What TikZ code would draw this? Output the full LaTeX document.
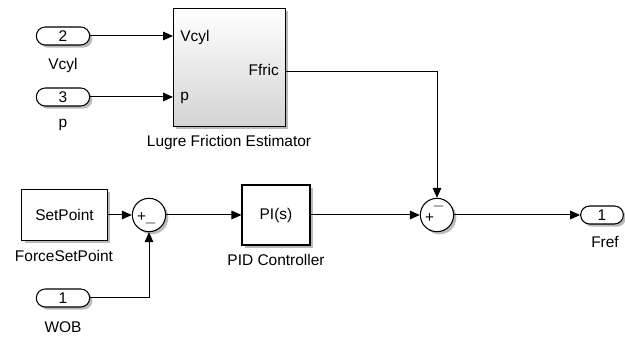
\documentclass[tikz,border=0pt]{standalone}
\usepackage{fontspec}
\setmainfont{Liberation Sans}
\usetikzlibrary{arrows.meta,shadows}
\begin{document}
\begin{tikzpicture}[x=0.75pt,y=-0.75pt,
  font=\fontsize{11.6}{13}\selectfont,
  shad/.style={drop shadow={shadow xshift=2pt,shadow yshift=-2pt,fill=black!45,opacity=0.6}},
  blk/.style={draw=black, line width=0.8pt, fill=white, inner sep=0pt, shad},
  port/.style={draw=black, line width=0.8pt, fill=white, rounded corners=6.7pt,
    minimum width=40pt, minimum height=13.5pt, inner sep=0pt, shad},
  sumc/.style={circle, draw=black, line width=0.8pt, fill=white, minimum size=25pt, inner sep=0pt, shad},
  sig/.style={line width=0.75pt, -{Triangle[length=7.5pt,width=6.5pt]}},
  lbl/.style={anchor=base, inner sep=0pt},
  sgn/.style={inner sep=0pt, font=\fontsize{11.5}{11}\selectfont}
]
\useasboundingbox (0,0) rectangle (625,338);

% inports
\node[port] (in2) at (63,36) {2};
\node[lbl] (in2l) at (63,70) {Vcyl};
\node[port] (in3) at (63,97) {3};
\node[lbl] (in3l) at (63,128) {p};
\node[port] (in1) at (63,298) {1};
\node[lbl] (in1l) at (63,333) {WOB};

% Lugre block
\node[blk, top color=white, bottom color=black!17, minimum width=84pt, minimum height=88.5pt, anchor=north west] (lugre) at (173,8) {};
\node[lbl, anchor=base west] (pv) at (180,42) {Vcyl};
\node[lbl, anchor=base west] (pp) at (180,101) {p};
\node[lbl, anchor=base east] (pf) at (279,76) {Ffric};
\node[lbl] (lugrel) at (229,147) {Lugre Friction Estimator};
\path (lugre.north east) ++(0,64) coordinate (ffric);

% setpoint
\node[blk, minimum width=64pt, minimum height=38pt] (sp) at (64.5,215) {SetPoint};
\node[lbl] (spl) at (64,262) {ForceSetPoint};

% sum 1
\node[sumc] (sum1) at (149,215) {};
\node[sgn] (s1p) at (141.5,217) {+};
\node[sgn] (s1m) at (150.5,224) {$-$};

% PID
\node[blk, minimum width=51pt, minimum height=45pt] (pid) at (276,215) {PI(s)};
\node[lbl] (pidl) at (276,266) {PID Controller};

% sum 2
\node[sumc] (sum2) at (437,215) {};
\node[sgn] (s2p) at (429.5,218) {+};
\node[sgn] (s2m) at (438.5,207) {$-$};

% outport
\node[port, minimum width=32pt] (out) at (602,215) {1};
\node[lbl] (outl) at (605,248) {Fref};

% connectors
\draw[sig] (in2.east) -- (lugre.west |- in2.east);
\draw[sig] (in3.east) -- (lugre.west |- in3.east);
\draw[sig] (ffric) -| (sum2.north);
\draw[sig] (sp.east) -- (sum1.west);
\draw[sig] (in1.east) -| (sum1.south);
\draw[sig] (sum1.east) -- (pid.west);
\draw[sig] (pid.east) -- (sum2.west);
\draw[sig] (sum2.east) -- (out.west);
\end{tikzpicture}
\end{document}
